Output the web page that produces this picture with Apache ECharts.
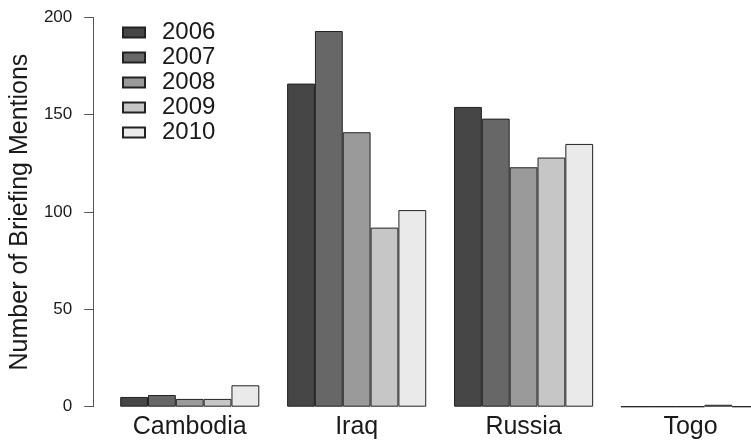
<!DOCTYPE html>
<html>
<head>
<meta charset="utf-8">
<script src="https://cdn.jsdelivr.net/npm/echarts@6/dist/echarts.min.js"></script>
<style>
  html, body { margin: 0; padding: 0; background: #fff; overflow: hidden; }
  /* the last group runs past the right edge of the window */
  #chart { width: 774px; height: 441px; }
</style>
</head>
<body>
<div id="chart"></div>
<script>
// Briefing mentions per country, grouped by year
const countries = ['Cambodia', 'Iraq', 'Russia', 'Togo'];
const years = ['2006', '2007', '2008', '2009', '2010'];
const mentions2006 = [5, 166, 154, 0];
const mentions2007 = [6, 193, 148, 0];
const mentions2008 = [4, 141, 123, 0];
const mentions2009 = [4, 92, 128, 1];
const mentions2010 = [11, 101, 135, 0];
const yTicks = [0, 50, 100, 150, 200];

const yearValues = [mentions2006, mentions2007, mentions2008, mentions2009, mentions2010];
const fills = ['#464646', '#676767', '#9a9a9a', '#c6c6c6', '#eaeaea'];
const FONT = '"Liberation Sans", Arial, Helvetica, sans-serif';

const chart = echarts.init(document.getElementById('chart'), null, { renderer: 'canvas' });

chart.setOption({
  animation: false,
  backgroundColor: '#ffffff',
  textStyle: { fontFamily: FONT, color: '#1a1a1a' },
  grid: { left: 102, right: 0, top: 17.4, bottom: 34.3, containLabel: false },
  legend: {
    orient: 'vertical',
    left: 122,
    top: 20,
    padding: 0,
    itemGap: 0,
    itemWidth: 22,
    itemHeight: 10,
    icon: 'rect',
    data: years,
    textStyle: { fontSize: 24, color: '#1a1a1a', lineHeight: 25, padding: [0, 0, 0, 12], fontFamily: FONT }
  },
  xAxis: {
    type: 'category',
    data: countries,
    axisLine: { show: false },
    axisTick: { show: false },
    axisLabel: { fontSize: 25, color: '#1a1a1a', margin: 8, fontFamily: FONT }
  },
  yAxis: {
    type: 'value',
    min: yTicks[0],
    max: yTicks[yTicks.length - 1],
    interval: yTicks[1] - yTicks[0],
    offset: 13,
    name: 'Number of Briefing Mentions',
    nameLocation: 'middle',
    nameGap: 58,
    nameTextStyle: { fontSize: 25, color: '#1a1a1a', fontFamily: FONT },
    splitLine: { show: false },
    axisLine: { show: true, lineStyle: { color: '#555', width: 1 } },
    axisTick: { show: true, length: 9, lineStyle: { color: '#555', width: 1 } },
    axisLabel: { fontSize: 17, color: '#1a1a1a', margin: 21, fontFamily: FONT }
  },
  series: years.map((y, i) => ({
    name: y,
    type: 'bar',
    data: yearValues[i],
    barGap: '0%',
    barCategoryGap: '16.667%',
    itemStyle: { color: fills[i], borderColor: '#222', borderWidth: 1 }
  }))
});
</script>
</body>
</html>
